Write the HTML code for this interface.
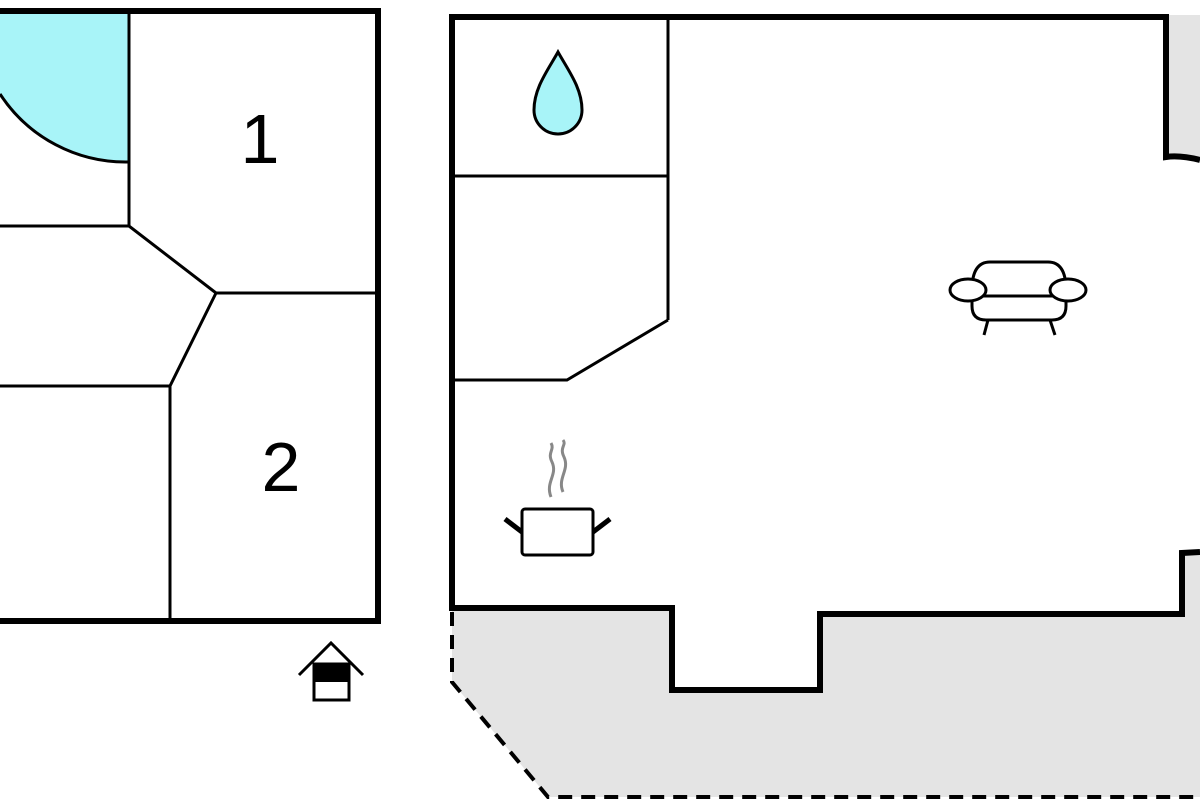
<!DOCTYPE html>
<html><head><style>body{margin:0;background:#fff}svg{display:block}</style></head><body>
<svg width="1200" height="800" viewBox="0 0 1200 800" xmlns="http://www.w3.org/2000/svg">
<rect width="1200" height="800" fill="#fff"/>
<!-- grey terrace -->
<polygon points="452,610 672,610 672,690 820,690 820,614 1182,614 1182,553 1200,553 1200,797 548,797 452,682" fill="#e4e4e4"/>
<polygon points="1166,15 1200,15 1200,160 1166,157" fill="#e4e4e4"/>
<rect x="672" y="614" width="148" height="76" fill="#fff"/>
<!-- dashed -->
<path d="M452,612 L452,682 L548,797 L1200,797" fill="none" stroke="#000" stroke-width="4" stroke-dasharray="14,9"/>
<!-- left building -->
<path d="M0,160 L0,94 A150,150 0 0 0 129,162 L129,11 L0,11 Z" fill="#a8f4f8"/>
<path d="M0,94 A150,150 0 0 0 129,162" fill="none" stroke="#000" stroke-width="3"/>
<g stroke="#000" stroke-width="3" fill="none">
<line x1="129" y1="11" x2="129" y2="226"/>
<polyline points="0,226 129,226 216,293 378,293"/>
<polyline points="216,293 170,386 0,386"/>
<line x1="170" y1="386" x2="170" y2="621"/>
</g>
<polyline points="0,11 378,11 378,621 0,621" fill="none" stroke="#000" stroke-width="6"/>
<text x="260" y="163" font-family="Liberation Sans, sans-serif" font-size="70" text-anchor="middle">1</text>
<text x="281" y="491" font-family="Liberation Sans, sans-serif" font-size="70" text-anchor="middle">2</text>
<!-- entrance icon -->
<polyline points="299,675 331,643 363,675" fill="none" stroke="#000" stroke-width="3"/>
<rect x="314" y="664" width="35" height="36" fill="#fff" stroke="#000" stroke-width="3"/>
<rect x="314" y="664" width="35" height="18" fill="#000"/>
<!-- right building -->
<g stroke="#000" stroke-width="3" fill="none">
<line x1="668" y1="15" x2="668" y2="320"/>
<line x1="452" y1="176" x2="668" y2="176"/>
<polyline points="668,320 567,380 452,380"/>
</g>
<path d="M1200,160 Q1180,155 1166,157 L1166,17 L452,17 L452,608 L672,608 L672,690 L820,690 L820,614 L1182,614 L1182,553 L1200,552" fill="none" stroke="#000" stroke-width="6"/>
<!-- drop -->
<path d="M558,52 C548,70 534,88 534,110 A24,24 0 0 0 582,110 C582,88 568,70 558,52 Z" fill="#a8f4f8" stroke="#000" stroke-width="3"/>
<!-- sofa -->
<g fill="#fff" stroke="#000" stroke-width="3">
<line x1="988" y1="320" x2="984" y2="335"/>
<line x1="1050" y1="320" x2="1055" y2="335"/>
<path d="M972,290 Q972,262 990,262 L1048,262 Q1066,262 1066,290 L1066,306 Q1066,320 1052,320 L986,320 Q972,320 972,306 Z"/>
<line x1="982" y1="296" x2="1056" y2="296"/>
<ellipse cx="968" cy="290" rx="18" ry="11"/>
<ellipse cx="1068" cy="290" rx="18" ry="11"/>
</g>
<!-- pot -->
<path d="M551,497 C545,482 558,475 552,462 C547,452 555,450 551,443" fill="none" stroke="#888" stroke-width="3"/>
<path d="M563,492 C557,478 570,470 564,457 C559,447 567,445 563,440" fill="none" stroke="#888" stroke-width="3"/>
<line x1="505" y1="519" x2="522" y2="532" stroke="#000" stroke-width="5"/>
<line x1="610" y1="519" x2="593" y2="532" stroke="#000" stroke-width="5"/>
<rect x="522" y="509" width="71" height="46" rx="3" fill="#fff" stroke="#000" stroke-width="3"/>
</svg>
</body></html>
